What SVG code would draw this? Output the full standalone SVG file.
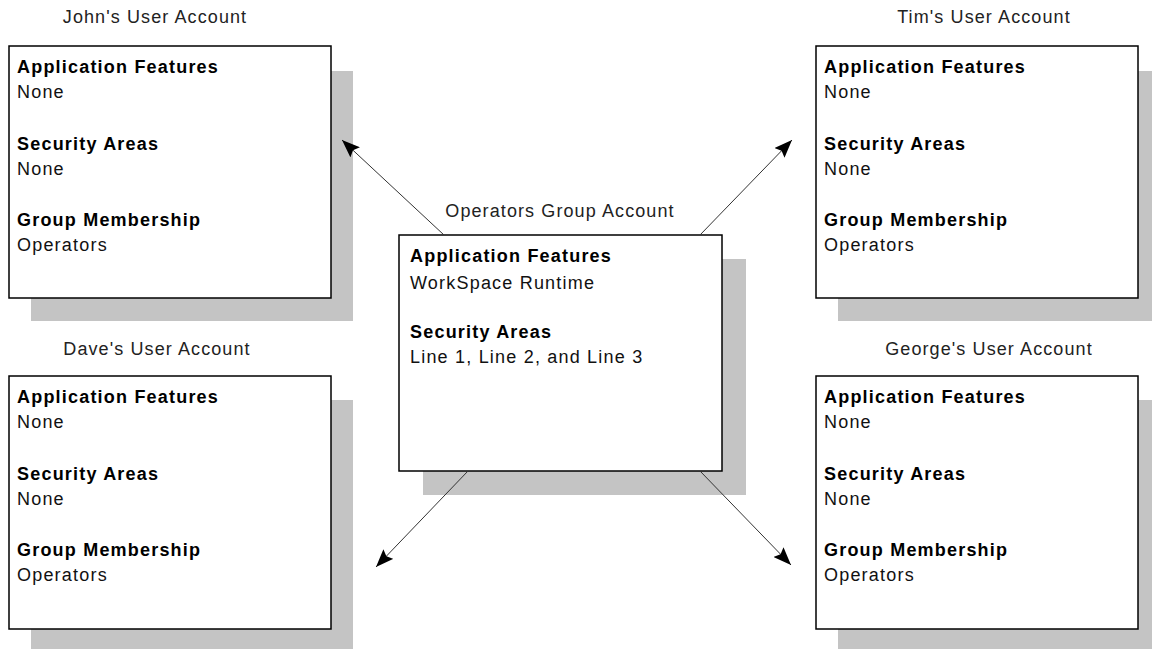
<svg xmlns="http://www.w3.org/2000/svg" width="1152" height="649" viewBox="0 0 1152 649">
<style>
.shadow{fill:#c4c4c4}
.box{fill:#fff;stroke:#000;stroke-width:1.5}
.t{font-family:"Liberation Sans",Arial,sans-serif;font-size:18px;letter-spacing:1.2px;fill:#111}
.b{font-weight:bold;fill:#000}
.title{text-anchor:middle;fill:#222;letter-spacing:1.1px}
.conn{stroke:#333;stroke-width:1;fill:none}
</style>
<defs>
<marker id="ah" viewBox="0 0 18 14" refX="18" refY="7" markerWidth="18" markerHeight="14" markerUnits="userSpaceOnUse" orient="auto">
<path d="M0,0 L18,7 L0,14 L3,7 Z" fill="#000"/>
</marker>
</defs>
<rect width="1152" height="649" fill="#fff"/>
<g id="john">
<rect class="shadow" x="31" y="71" width="322" height="250"/>
<rect class="box" x="9" y="46" width="322" height="252"/>
<text class="t title" x="155" y="23">John's User Account</text>
<text class="t b" x="17" y="73">Application Features</text>
<text class="t" x="17" y="98">None</text>
<text class="t b" x="17" y="150">Security Areas</text>
<text class="t" x="17" y="175">None</text>
<text class="t b" x="17" y="226">Group Membership</text>
<text class="t" x="17" y="251">Operators</text>
</g>
<g id="tim">
<rect class="shadow" x="838" y="71" width="322" height="250"/>
<rect class="box" x="816" y="46" width="322" height="252"/>
<text class="t title" x="984" y="23">Tim's User Account</text>
<text class="t b" x="824" y="73">Application Features</text>
<text class="t" x="824" y="98">None</text>
<text class="t b" x="824" y="150">Security Areas</text>
<text class="t" x="824" y="175">None</text>
<text class="t b" x="824" y="226">Group Membership</text>
<text class="t" x="824" y="251">Operators</text>
</g>
<g id="dave">
<rect class="shadow" x="31" y="400" width="322" height="249"/>
<rect class="box" x="9" y="376" width="322" height="253"/>
<text class="t title" x="157" y="355">Dave's User Account</text>
<text class="t b" x="17" y="403">Application Features</text>
<text class="t" x="17" y="428">None</text>
<text class="t b" x="17" y="480">Security Areas</text>
<text class="t" x="17" y="505">None</text>
<text class="t b" x="17" y="556">Group Membership</text>
<text class="t" x="17" y="581">Operators</text>
</g>
<g id="george">
<rect class="shadow" x="838" y="400" width="322" height="249"/>
<rect class="box" x="816" y="376" width="322" height="253"/>
<text class="t title" x="989" y="355">George's User Account</text>
<text class="t b" x="824" y="403">Application Features</text>
<text class="t" x="824" y="428">None</text>
<text class="t b" x="824" y="480">Security Areas</text>
<text class="t" x="824" y="505">None</text>
<text class="t b" x="824" y="556">Group Membership</text>
<text class="t" x="824" y="581">Operators</text>
</g>
<g id="operators">
<rect class="shadow" x="423" y="259" width="323" height="236"/>
<rect class="box" x="399" y="235" width="323" height="236"/>
<text class="t title" x="560" y="217">Operators Group Account</text>
<text class="t b" x="410" y="262">Application Features</text>
<text class="t" x="410" y="289">WorkSpace Runtime</text>
<text class="t b" x="410" y="338">Security Areas</text>
<text class="t" x="410" y="363">Line 1, Line 2, and Line 3</text>
</g>
<g id="connectors">
<line class="conn" x1="444" y1="235" x2="342" y2="140" marker-end="url(#ah)"/>
<line class="conn" x1="700" y1="235" x2="792" y2="140" marker-end="url(#ah)"/>
<line class="conn" x1="468" y1="471" x2="376" y2="567" marker-end="url(#ah)"/>
<line class="conn" x1="700" y1="471" x2="791" y2="565" marker-end="url(#ah)"/>
</g>
</svg>
